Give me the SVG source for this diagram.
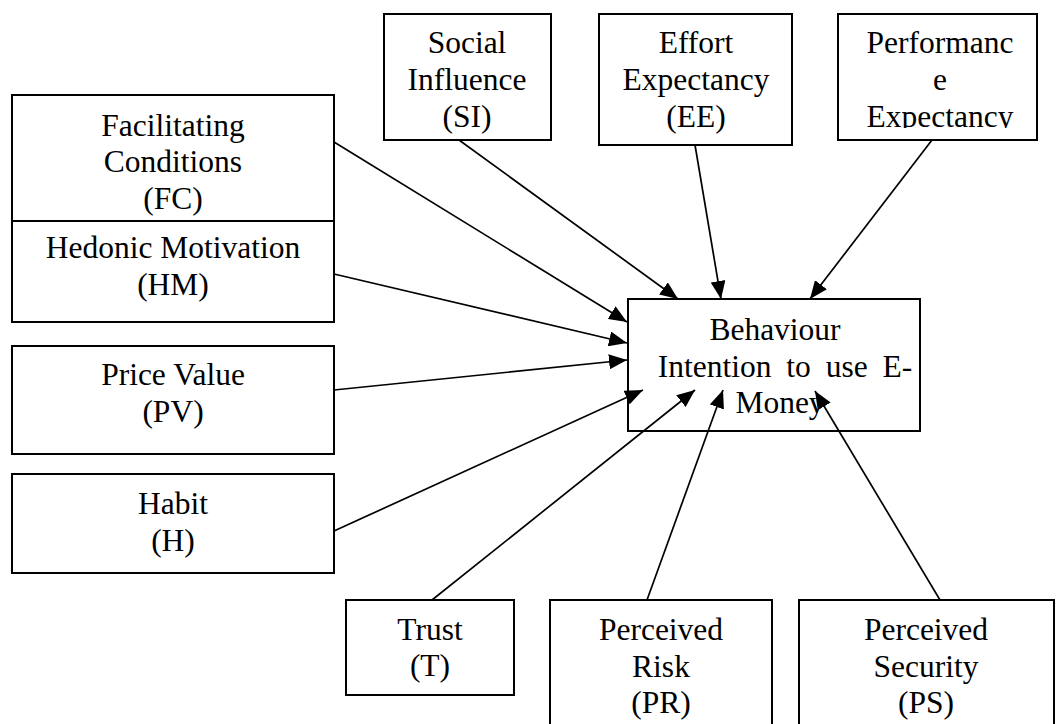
<svg xmlns="http://www.w3.org/2000/svg" width="1060" height="724" viewBox="0 0 1060 724">
<style>
.box{fill:#fff;stroke:#000;stroke-width:2}
.t{font-family:"Liberation Serif","Times New Roman",serif;font-size:31.5px;fill:#000;text-anchor:middle}
.c{stroke:#000;stroke-width:1.7;fill:none;marker-end:url(#ah)}
</style>
<defs>
<marker id="ah" markerUnits="userSpaceOnUse" markerWidth="19" markerHeight="15" refX="18" refY="7.5" orient="auto">
<path d="M0,0 L18,7.5 L0,15 z" fill="#000"/>
</marker>
<clipPath id="peclip"><rect x="838" y="14" width="200" height="114"/></clipPath>
</defs>
<rect width="1060" height="724" fill="#fff"/>
<g id="FC"><rect class="box" x="12" y="95" width="322" height="126"/>
<text class="t" x="173" y="135.5">Facilitating</text><text class="t" x="173" y="172">Conditions</text><text class="t" x="173" y="208.5">(FC)</text></g>
<g id="HM"><rect class="box" x="12" y="221" width="322" height="101"/>
<text class="t" x="173" y="258">Hedonic Motivation</text><text class="t" x="173" y="295">(HM)</text></g>
<g id="PV"><rect class="box" x="12" y="346" width="322" height="108"/>
<text class="t" x="173" y="385">Price Value</text><text class="t" x="173" y="422">(PV)</text></g>
<g id="H"><rect class="box" x="12" y="474" width="322" height="99"/>
<text class="t" x="173" y="514">Habit</text><text class="t" x="173" y="551">(H)</text></g>
<g id="SI"><rect class="box" x="384" y="14" width="167" height="126"/>
<text class="t" x="467" y="53">Social</text><text class="t" x="467" y="90">Influence</text><text class="t" x="467" y="127">(SI)</text></g>
<g id="EE"><rect class="box" x="599" y="14" width="193" height="131"/>
<text class="t" x="696" y="53">Effort</text><text class="t" x="696" y="90">Expectancy</text><text class="t" x="696" y="127">(EE)</text></g>
<g id="PE"><rect class="box" x="838" y="14" width="199" height="126"/>
<g clip-path="url(#peclip)"><text class="t" x="940" y="53">Performanc</text><text class="t" x="940" y="90">e</text><text class="t" x="940" y="127">Expectancy</text></g></g>
<g id="BI"><rect class="box" x="628" y="299" width="292" height="132"/>
<text class="t" x="775" y="340">Behaviour</text><text class="t" x="785" y="377" word-spacing="7">Intention to use E-</text><text class="t" x="780" y="413">Money</text></g>
<g id="T"><rect class="box" x="346" y="600" width="168" height="95"/>
<text class="t" x="430" y="640">Trust</text><text class="t" x="430" y="676">(T)</text></g>
<g id="PR"><rect class="box" x="550" y="600" width="222" height="140"/>
<text class="t" x="661" y="640">Perceived</text><text class="t" x="661" y="677">Risk</text><text class="t" x="661" y="713">(PR)</text></g>
<g id="PS"><rect class="box" x="799" y="600" width="255" height="140"/>
<text class="t" x="926" y="640">Perceived</text><text class="t" x="926" y="677">Security</text><text class="t" x="926" y="713">(PS)</text></g>
<g id="connectors">
<line class="c" x1="334" y1="142" x2="627" y2="322"/>
<line class="c" x1="334" y1="274" x2="627" y2="343"/>
<line class="c" x1="334" y1="390" x2="627" y2="360"/>
<line class="c" x1="334" y1="531" x2="643" y2="390"/>
<line class="c" x1="432" y1="600" x2="695" y2="390"/>
<line class="c" x1="647" y1="600" x2="723" y2="390"/>
<line class="c" x1="940" y1="600" x2="815" y2="391"/>
<line class="c" x1="459" y1="140" x2="678" y2="299"/>
<line class="c" x1="695" y1="145" x2="721" y2="299"/>
<line class="c" x1="932" y1="140" x2="810" y2="299"/>
</g>
</svg>
